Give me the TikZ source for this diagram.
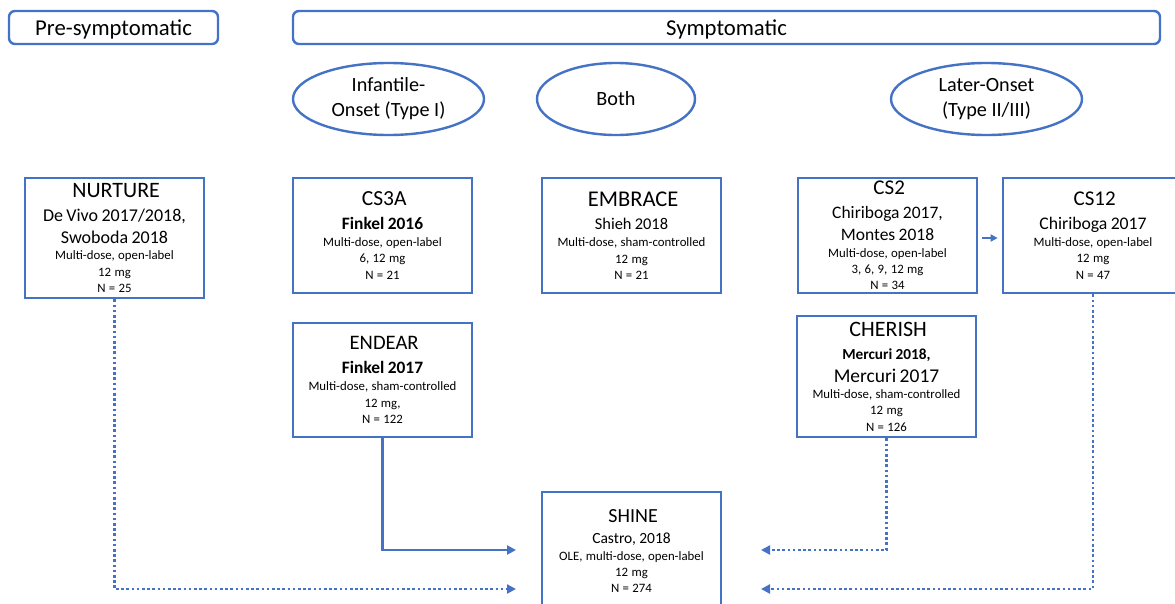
\documentclass[tikz,border=0pt]{standalone}
\usepackage{fontspec}
\setmainfont{Carlito}
\usetikzlibrary{shapes.geometric,arrows.meta}
\definecolor{blu}{HTML}{4472C4}
\newcommand\tB[1]{\fontsize{#1}{25}\selectfont\mdseries}
\newcommand\tM[1]{\fontsize{#1}{22.5}\selectfont\mdseries}
\newcommand\tBF[1]{\fontsize{#1}{22.5}\selectfont\bfseries}
\newcommand\tS{\fontsize{12.8}{16.3}\selectfont\mdseries}
\begin{document}
\begin{tikzpicture}[x=1pt,y=-1pt,
  hdr/.style={draw=blu,line width=2.4pt,rounded corners=6pt,inner sep=0pt,text depth=0pt,font=\fontsize{22.7}{26}\selectfont},
  ell/.style={ellipse,draw=blu,line width=2.4pt,inner sep=0pt,align=center,font=\fontsize{20.2}{25}\selectfont},
  box/.style={draw=blu,line width=2.7pt,inner sep=0pt,text width=176pt,align=center,minimum width=179pt},
  conn/.style={draw=blu,line width=2.4pt,-{Triangle[length=9pt,width=9pt]}},
  dotconn/.style={conn,dash pattern=on 2.6pt off 2.6pt}]
\useasboundingbox (0,0) rectangle (1175,603);
\node[hdr,minimum width=209pt,minimum height=33pt] (pre) at (113.5,27.5) {Pre-symptomatic};
\node[hdr,minimum width=867pt,minimum height=33pt] (sym) at (726.5,27.5) {Symptomatic};
\node[ell,minimum width=191pt,minimum height=72pt] (inf) at (388.5,99) {Infantile-\\Onset (Type I)};
\node[ell,minimum width=158pt,minimum height=72pt] (both) at (616,99) {Both};
\node[ell,minimum width=191pt,minimum height=72pt] (late) at (986.5,99) {Later-Onset\\(Type II/III)};

\node[box,minimum height=120pt] (nurture) at (114.5,238) {\tB{22} NURTURE\\[1pt] \tM{18} De Vivo 2017/2018,\\ Swoboda 2018\\ \tS Multi-dose, open-label\\ 12 mg\\ N = 25\par};
\node[box,minimum height=115pt] (cs3a) at (382.5,235.5) {\tB{21.5} CS3A\\[1pt] \tBF{17.4} Finkel 2016\\[1pt] \tS Multi-dose, open-label\\ 6, 12 mg\\ N = 21\par};
\node[box,minimum height=115pt] (embrace) at (631.5,235.5) {\tB{22.5} EMBRACE\\[1pt] \tM{16.4} Shieh 2018\\[1pt] \tS Multi-dose, sham-controlled\\ 12 mg\\ N = 21\par};
\node[box,minimum height=115pt] (cs2) at (887.5,235.5) {\tB{21} CS2\\[1pt] \tM{17.5} Chiriboga 2017,\\ Montes 2018\\ \tS Multi-dose, open-label\\ 3, 6, 9, 12 mg\\ N = 34\par};
\node[box,minimum height=115pt,minimum width=180pt] (cs12) at (1093,235.5) {\tB{21} CS12\\[1pt] \tM{17.7} Chiriboga 2017\\[1pt] \tS Multi-dose, open-label\\ 12 mg\\ N = 47\par};
\node[box,minimum height=114pt] (endear) at (382.5,380) {\tB{20.6} ENDEAR\\[1pt] \tBF{17.4} Finkel 2017\\[1pt] \tS Multi-dose, sham-controlled\\ 12 mg,\\ N = 122\par};
\node[box,minimum height=121pt] (cherish) at (886.5,376.5) {\tB{22} CHERISH\\[1pt] \tBF{15.3} Mercuri 2018,\\ \tM{19.5} Mercuri 2017\\ \tS Multi-dose, sham-controlled\\ 12 mg\\ N = 126\par};
\node[box,minimum height=118pt] (shine) at (631.5,551) {\tB{20} SHINE\\[-1pt] \tM{15.5} Castro, 2018\\ \tS OLE, multi-dose, open-label\\ 12 mg\\ N = 274\par};

\coordinate (e1) at (516,550);
\coordinate (e2) at (516,589);
\coordinate (e3) at (761,550);
\coordinate (e4) at (761,589);
\draw[conn] (endear.south) |- (e1);
\draw[dotconn] (nurture.south) |- (e2);
\draw[dotconn] (cherish.south) |- (e3);
\draw[dotconn] (cs12.south) |- (e4);
\draw[draw=blu,line width=2.4pt,-{Triangle[length=7pt,width=7pt]}] ([xshift=4pt,yshift=-2.5pt]cs2.east) -- ([xshift=-4pt,yshift=-2.5pt]cs12.west);
\end{tikzpicture}
\end{document}
